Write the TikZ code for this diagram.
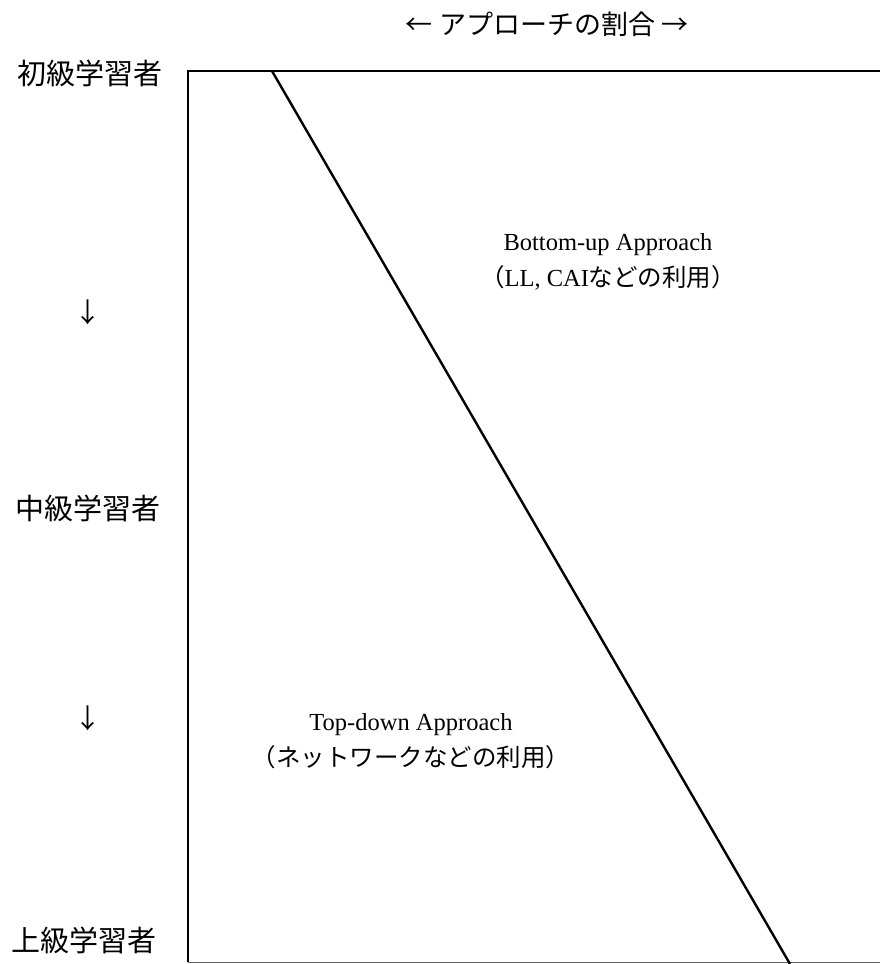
\documentclass[tikz,border=0pt]{standalone}
\usepackage{fontspec}
\setmainfont{Liberation Serif}
\newfontfamily\jp{Noto Sans CJK JP}
\begin{document}
\begin{tikzpicture}[x=1pt,y=-1pt,
  lvl/.style={font=\jp\fontsize{29}{32}\selectfont, inner sep=0pt},
  arr/.style={font=\jp\fontsize{27}{30}\selectfont, inner sep=0pt},
  lab/.style={font=\fontsize{24.5}{36}\selectfont, align=center, inner sep=0pt},
  edge/.style={line width=2.4pt, black}]
\useasboundingbox (0,0) rectangle (880,964);
\coordinate (tl) at (188,71);
\coordinate (tr) at (880,71);
\coordinate (bl) at (188,962);
\coordinate (br) at (880,962);
\coordinate (dtop) at (272,71);
\coordinate (dbot) at (790,964);
\draw[edge] (bl) -- (tl) -- (tr);
\draw[line width=1pt, black!60] (bl) -- (br);
\draw[edge] (dtop) -- (dbot);
\node[arr] (title) at (547,24) {← アプローチの割合 →};
\node[lvl] (beg) at (90,73) {初級学習者};
\node[arr] (d1) at (88,312) {↓};
\node[lvl] (mid) at (88,508) {中級学習者};
\node[arr] (d2) at (88,718) {↓};
\node[lvl] (adv) at (84,940) {上級学習者};
\node[lab] (bu) at (608,262) {Bottom-up Approach\\{\jp （}LL, CAI{\jp などの利用）}};
\node[lab] (td) at (411,741) {Top-down Approach\\{\jp （ネットワークなどの利用）}};
\end{tikzpicture}
\end{document}
